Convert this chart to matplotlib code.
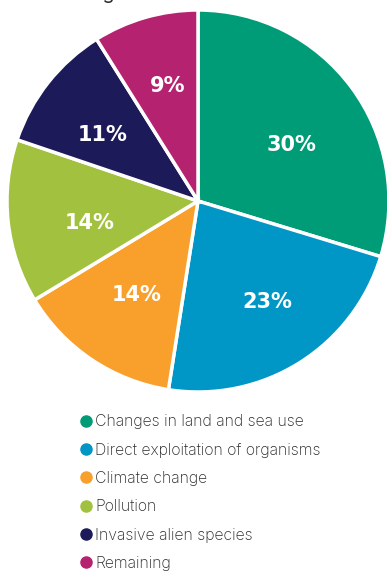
#!/usr/bin/env python3
"""Pie chart of drivers of nature loss, with a dot legend underneath."""

import matplotlib
matplotlib.use("Agg")
import matplotlib.pyplot as plt
from matplotlib.lines import Line2D

# Data
categories = [
    "Changes in land and sea use",
    "Direct exploitation of organisms",
    "Climate change",
    "Pollution",
    "Invasive alien species",
    "Remaining",
]
shares = [30, 23, 14, 14, 11, 9]
pct_labels = ["30%", "23%", "14%", "14%", "11%", "9%"]
colors = ["#009C77", "#0096C6", "#F8A02B", "#A2C13E", "#1D1A5A", "#B5226F"]

# where the percentage labels sit, in pie-radius units (layout only)
label_pos = [(0.487, 0.293), (0.361, -0.529), (-0.319, -0.492),
             (-0.565, -0.115), (-0.497, 0.346), (-0.157, 0.602)]

W, H = 387, 574
fig = plt.figure(figsize=(W / 100, H / 100), dpi=100)
fig.patch.set_facecolor("white")

# Pie axes: centre ~(198, 201) px, radius ~191 px
cx, cy, r = 198, 201, 191
ax = fig.add_axes([(cx - r) / W, (H - cy - r) / H, 2 * r / W, 2 * r / H])

wedges, texts = ax.pie(
    shares,
    colors=colors,
    startangle=90,
    counterclock=False,
    wedgeprops=dict(edgecolor="white", linewidth=2.5),
)
for (lx, ly), lab in zip(label_pos, pct_labels):
    ax.text(lx, ly, lab, color="white", fontsize=15, fontweight="bold",
            ha="center", va="center", family="DejaVu Sans")
ax.set_xlim(-1, 1)
ax.set_ylim(-1, 1)
ax.set_aspect("equal")
ax.axis("off")

# Cropped title fragment at the very top
fig.text(38 / W, 1 + 1 / H, "showing", fontsize=14, color="#2b2b2b",
         ha="left", va="baseline", family="Inter")

# Legend with round dots
handles = [
    Line2D([0], [0], marker="o", linestyle="none", markersize=8,
           markerfacecolor=c, markeredgecolor=c)
    for c in colors
]
leg = fig.legend(
    handles,
    categories,
    loc="upper left",
    bbox_to_anchor=(72 / W, 1 - 408 / H),
    frameon=False,
    handletextpad=0.05,
    handlelength=1.0,
    labelspacing=0.84,
    borderaxespad=0,
    prop=dict(family="Inter", size=11.4, weight="light"),
)
for t in leg.get_texts():
    t.set_color("#2b2b2b")

fig.savefig("out.png", dpi=100, facecolor="white")
